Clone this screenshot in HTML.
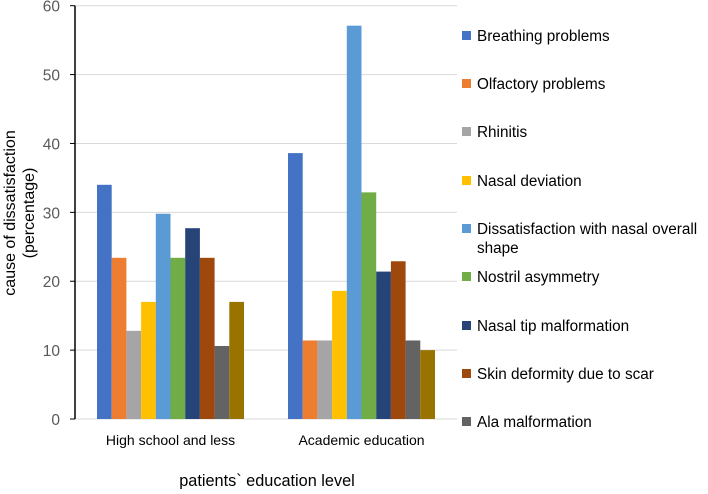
<!DOCTYPE html>
<html><head><meta charset="utf-8"><style>
body{margin:0;background:#fff;}
svg{font-family:"Liberation Sans",sans-serif;}
</style></head><body>
<svg id="c" width="708" height="489"></svg>
<script>
const categories=["High school and less","Academic education"];
const seriesNames=["Breathing problems","Olfactory problems","Rhinitis","Nasal deviation","Dissatisfaction with nasal overall shape","Nostril asymmetry","Nasal tip malformation","Skin deformity due to scar","Ala malformation","Other"];
const seriesColors=["#4472c4","#ed7d31","#a5a5a5","#ffc000","#5b9bd5","#70ad47","#264478","#9e480e","#636363","#997300"];
const highSchool=[34,23.4,12.8,17,29.8,23.4,27.7,23.4,10.6,17];
const academic=[38.6,11.4,11.4,18.6,57.1,32.9,21.4,22.9,11.4,10];
const yTicks=[0,10,20,30,40,50,60];
const values=[highSchool,academic];
const NS="http://www.w3.org/2000/svg";
const svg=document.getElementById('c');
const x0=75,x1=457,yb=419,yt=5.7;
const y=v=>yb-(v/60)*(yb-yt);
const catW=(x1-x0)/categories.length;
const barW=14.7;
function mk(t,a){const e=document.createElementNS(NS,t);for(const k in a)e.setAttribute(k,a[k]);svg.appendChild(e);return e;}
yTicks.forEach(t=>{
  const g=mk('line',{x1:x0,x2:x1,y1:y(t),y2:y(t),stroke:'#d9d9d9','stroke-width':1});
  
  
  const tk=mk('line',{x1:x0-5,x2:x0,y1:y(t),y2:y(t),stroke:'#000','stroke-width':1});
  
  
  const tx=mk('text',{x:x0-15,y:y(t)+6,'text-anchor':'end','font-size':15.5,fill:'#595959'});
  tx.textContent=t;
  
  
});
values.forEach((vals,ci)=>{
  const cx=x0+catW*(ci+0.5);
  const start=cx-barW*vals.length/2;
  vals.forEach((v,si)=>{
    const r=mk('rect',{x:start+si*barW,y:y(v),width:barW,height:yb-y(v),fill:seriesColors[si]});
    
    
  });
  const l=mk('text',{x:cx,y:445,'text-anchor':'middle','font-size':14,fill:'#000'});
  l.textContent=categories[ci];
  
  
});
const ax=mk('line',{x1:x0,x2:x0,y1:yt,y2:yb,stroke:'#000','stroke-width':1.5});


const xt=mk('text',{x:267,y:486,'text-anchor':'middle','font-size':16.3,fill:'#000'});
xt.textContent='patients` education level';


const yt1=mk('text',{x:0,y:0,'text-anchor':'middle','font-size':16,fill:'#000',transform:'translate(15,213) rotate(-90)'});
yt1.textContent='cause of dissatisfaction';


const yt2=mk('text',{x:0,y:0,'text-anchor':'middle','font-size':16,fill:'#000',transform:'translate(34,213) rotate(-90)'});
yt2.textContent='(percentage)';


const legY=[36,84,132,181,229,277,326,374,422];
for(let i=0;i<9;i++){
  const r=mk('rect',{x:462,y:legY[i]-5,width:9,height:9,fill:seriesColors[i]});
  
  
  const t=mk('text',{x:477,y:legY[i]+5,'font-size':15.3,fill:'#000'});
  if(i===4){
    t.textContent='Dissatisfaction with nasal overall';
    const t2=mk('text',{x:477,y:legY[i]+24,'font-size':15.3,fill:'#000'});
    t2.textContent='shape';
    
    
  } else t.textContent=seriesNames[i];
  
  
}
</script>
</body></html>
